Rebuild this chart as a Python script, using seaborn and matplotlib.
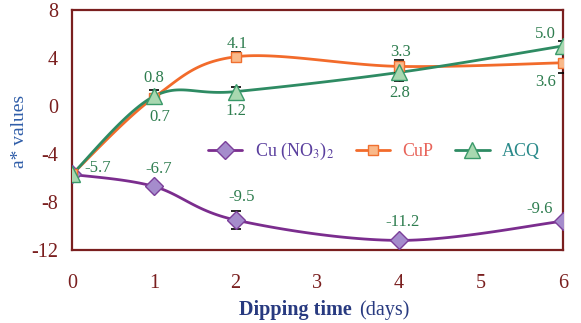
import numpy as np
import pandas as pd
import matplotlib
matplotlib.use("Agg")
import matplotlib.pyplot as plt
from matplotlib.lines import Line2D
import seaborn as sns

# dipping time (days)
days = [0, 1, 2, 4, 6]

# a* values
cu_no3 = [-5.7, -6.7, -9.5, -11.2, -9.6]
cup = [-5.7, 0.7, 4.1, 3.3, 3.6]
acq = [-5.7, 0.8, 1.2, 2.8, 5.0]

# error bar half-widths (estimated)
cu_no3_err = [0.2, 0.3, 0.75, 0.2, 0.2]
cup_err = [0.2, 0.3, 0.4, 0.5, 0.85]
acq_err = [0.2, 0.5, 0.4, 0.7, 0.45]

# value labels shown on the chart
cu_no3_lbl = ["-5.7", "-6.7", "-9.5", "-11.2", "-9.6"]
cup_lbl = [None, "0.7", "4.1", "3.3", "3.6"]
acq_lbl = [None, "0.8", "1.2", "2.8", "5.0"]

DARKRED = "#7a1f1f"
LBL = "#2e7d4f"


def smooth(xs, ys, n=30):
    # Excel-like smoothed line (Catmull-Rom through the data points)
    p = np.column_stack([xs, ys]).astype(float)
    p = np.vstack([p[0], p, p[-1]])
    out = []
    for i in range(1, len(p) - 2):
        p0, p1, p2, p3 = p[i - 1], p[i], p[i + 1], p[i + 2]
        c1 = p1 + (p2 - p0) / 6
        c2 = p2 - (p3 - p1) / 6
        t = np.linspace(0, 1, n)[:, None]
        seg = ((1 - t) ** 3) * p1 + 3 * ((1 - t) ** 2) * t * c1 + 3 * (1 - t) * t ** 2 * c2 + t ** 3 * p2
        out.append(seg if i == 1 else seg[1:])
    s = np.vstack(out)
    return s[:, 0], s[:, 1]


sns.set_style("white")
plt.rcParams["font.family"] = ["Liberation Serif", "DejaVu Serif"]
plt.rcParams["mathtext.fontset"] = "stix"
plt.rcParams["axes.unicode_minus"] = False

fig = plt.figure(figsize=(5.81, 3.23), dpi=100)
ax = fig.add_axes([72 / 581, 1 - 250 / 323, 490.7 / 581, 240 / 323])

series = [
    ("Cu (NO$_3$)$_2$", cu_no3, cu_no3_err, "#7b2d8e", "#a58ccc", "#7b3f9a", "D", 9, "#5a3f9e"),
    ("CuP", cup, cup_err, "#f26b2b", "#f9b98a", "#f07030", "s", 7.5, "#e8645a"),
    ("ACQ", acq, acq_err, "#2e8b63", "#a8d8b0", "#3a9a6a", "^", 12, "#2a8a8a"),
]

handles = []
for name, vals, err, lc, fc, ec, mk, ms, tc in series:
    sx, sy = smooth(days, vals)
    df = pd.DataFrame({"x": sx, "y": sy})
    sns.lineplot(data=df, x="x", y="y", ax=ax, color=lc, lw=2, sort=False, estimator=None)
    ax.errorbar(days, vals, yerr=err, fmt="none", ecolor="black", elinewidth=1, capsize=3.5, capthick=1.2, zorder=3)
    ax.plot(days, vals, ls="none", marker=mk, ms=ms, mfc=fc, mec=ec, mew=1, zorder=4)
    handles.append(Line2D([], [], color=lc, lw=2, marker=mk, ms=ms, mfc=fc, mec=ec))

# value labels: (x, y, text, offset px right, offset px up)
lab_pts = [
    (0, cu_no3[0], cu_no3_lbl[0], 26, 6),
    (1, cu_no3[1], cu_no3_lbl[1], 5, 17),
    (2, cu_no3[2], cu_no3_lbl[2], 6, 23),
    (4, cu_no3[3], cu_no3_lbl[3], 3, 18),
    (6, cu_no3[4], cu_no3_lbl[4], -23, 12),
    (1, acq[1], acq_lbl[1], 0, 18),
    (1, cup[1], cup_lbl[1], 6, -19),
    (2, cup[2], cup_lbl[2], 2, 13),
    (2, acq[2], acq_lbl[2], 0, -19),
    (4, cup[3], cup_lbl[3], 1, 14),
    (4, acq[3], acq_lbl[3], 1, -21),
    (6, acq[4], acq_lbl[4], -17, 12),
    (6, cup[4], cup_lbl[4], -17, -19),
]
for x, y, t, dx, dy in lab_pts:
    ax.annotate(t, (x, y), xytext=(dx, dy), textcoords="offset pixels", ha="center", va="center",
                color=LBL, fontsize=12)

ax.set_xlim(0, 6)
ax.set_ylim(-12, 8)
ax.set_xticks(range(0, 7))
ax.set_yticks(range(-12, 9, 4))
ax.tick_params(axis="x", length=0, pad=17, labelsize=14.5, labelcolor=DARKRED)
ax.tick_params(axis="y", direction="in", length=6, width=2, color=DARKRED, pad=10, labelsize=14.5,
               labelcolor=DARKRED)
for s in ax.spines.values():
    s.set_color(DARKRED)
    s.set_linewidth(1.6)
ax.set_xlabel("")
ax.set_ylabel("")

leg = ax.legend(handles, [s[0] for s in series], loc="center left", bbox_to_anchor=(0.277, 0.41),
                ncol=3, frameon=False, fontsize=13, handlelength=1.9, columnspacing=1.2,
                handletextpad=0.7, borderpad=0, borderaxespad=0)
for txt, s in zip(leg.get_texts(), series):
    txt.set_color(s[8])

fig.text(20 / 581, 1 - 131 / 323, "a* values", rotation=90, ha="center", va="center",
         color="#2f5da8", fontsize=14)
fig.text(352 / 581, 1 - 310 / 323, "Dipping time", ha="right", va="center", fontsize=14.5,
         weight="bold", color="#283a80")
fig.text(359 / 581, 1 - 310 / 323, "(days)", ha="left", va="center", fontsize=14.5, color="#283a80")

fig.savefig("out.png", dpi=100)
